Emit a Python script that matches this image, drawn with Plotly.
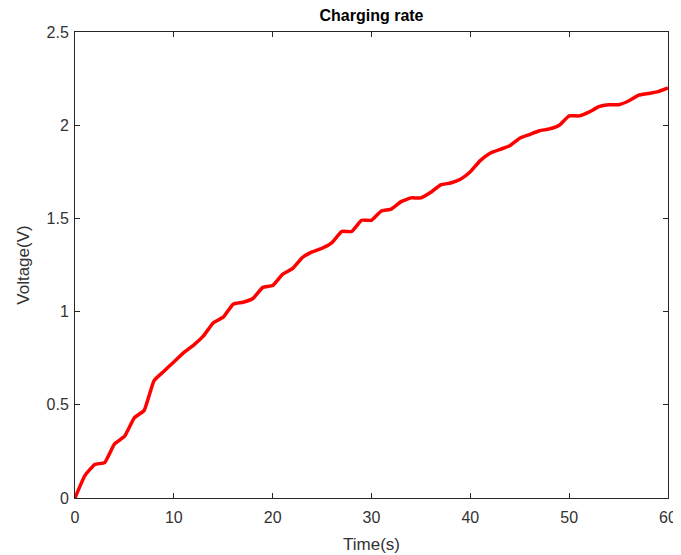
import plotly.graph_objects as go

time_s = list(range(0, 61))
voltage_v = [0.00, 0.12, 0.18, 0.19, 0.29, 0.33, 0.43, 0.47, 0.63, 0.68,
             0.73, 0.78, 0.82, 0.87, 0.94, 0.97, 1.04, 1.05, 1.07, 1.13,
             1.14, 1.20, 1.23, 1.29, 1.32, 1.34, 1.37, 1.43, 1.43, 1.49,
             1.49, 1.54, 1.55, 1.59, 1.61, 1.61, 1.64, 1.68, 1.69, 1.71,
             1.75, 1.81, 1.85, 1.87, 1.89, 1.93, 1.95, 1.97, 1.98, 2.00,
             2.05, 2.05, 2.07, 2.10, 2.11, 2.11, 2.13, 2.16, 2.17, 2.18,
             2.20]
x_ticks = [0, 10, 20, 30, 40, 50, 60]
y_ticks = [0, 0.5, 1, 1.5, 2, 2.5]
y_tick_labels = ["0", "0.5", "1", "1.5", "2", "2.5"]

FONT = "Liberation Sans, Arial"
TXT = "#333333"

fig = go.Figure()
fig.add_trace(go.Scatter(x=time_s, y=voltage_v, mode="lines",
                         line=dict(color="#ff0000", width=3.5, shape="spline", smoothing=0.4),
                         showlegend=False))

axis_common = dict(showline=True, linecolor="#262626", linewidth=1, mirror="ticks",
                   ticks="inside", ticklen=5, tickcolor="#262626", showgrid=False,
                   zeroline=False, tickfont=dict(family=FONT, size=16, color=TXT))

fig.update_layout(
    width=681, height=555,
    margin=dict(l=67, r=21, t=24, b=65, autoexpand=False),
    paper_bgcolor="white", plot_bgcolor="white",
    title=dict(text="<b>Charging rate</b>", x=0.5, xanchor="center", xref="paper",
               y=0.996, yanchor="top",
               font=dict(family=FONT, size=16, color="#000000")),
    xaxis=dict(range=[0, 60], tickvals=x_ticks, ticklabelstandoff=5,
               title=dict(text="Time(s)", standoff=12,
                          font=dict(family=FONT, size=17, color=TXT)),
               **axis_common),
    yaxis=dict(range=[0, 2.5], tickvals=y_ticks, ticktext=y_tick_labels,
               ticklabelstandoff=2,
               title=dict(text="Voltage(V)", standoff=12,
                          font=dict(family=FONT, size=17, color=TXT)),
               **axis_common),
)

fig.write_html("out.html")
